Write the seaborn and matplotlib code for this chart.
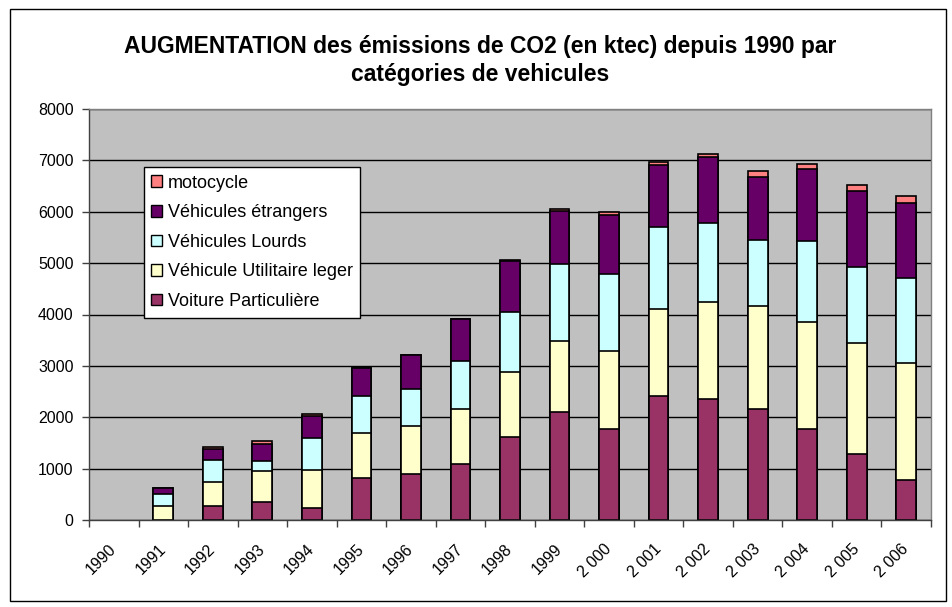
"""
Stacked bar chart: CO2 emission increase since 1990 by vehicle category.
"""

import matplotlib.pyplot as plt
import matplotlib.patches as mpatches
import matplotlib.transforms as mtransforms
import numpy as np
import pandas as pd
import seaborn as sns

years = ['1990', '1991', '1992', '1993', '1994', '1995', '1996', '1997', '1998',
         '1999', '2 000', '2 001', '2 002', '2 003', '2 004', '2 005', '2 006']

voiture_particuliere = [0, 0, 273, 357, 240, 825, 903, 1098, 1618, 2105, 1774,
                        2404, 2359, 2164, 1774, 1287, 786]
utilitaire_leger = [0, 273, 468, 598, 741, 871, 929, 1072, 1254, 1371, 1514,
                    1709, 1884, 2001, 2086, 2163, 2274]
vehicules_lourds = [0, 240, 429, 189, 611, 708, 709, 923, 1176, 1501, 1501,
                    1585, 1533, 1286, 1565, 1482, 1644]
vehicules_etrangers = [0, 117, 220, 344, 435, 559, 662, 825, 988, 1040, 1156,
                       1209, 1293, 1235, 1398, 1481, 1462]
motocycle = [0, 0, 30, 45, 30, 0, 0, 0, 30, 40, 52, 52, 52, 104, 110, 111, 137]

series = [
    ('Voiture Particulière', voiture_particuliere, '#993366'),
    ('Véhicule Utilitaire leger', utilitaire_leger, '#FFFFCC'),
    ('Véhicules Lourds', vehicules_lourds, '#CCFFFF'),
    ('Véhicules étrangers', vehicules_etrangers, '#660066'),
    ('motocycle', motocycle, '#FF8080'),
]

sns.set_style('white')
plt.rcParams['font.family'] = ['Liberation Sans', 'DejaVu Sans']
plt.rcParams['text.color'] = 'black'
plt.rcParams['xtick.color'] = 'black'
plt.rcParams['ytick.color'] = 'black'

fig = plt.figure(figsize=(9.52, 6.07), dpi=100)
ax = fig.add_axes([89 / 952, 1 - 520 / 607, 842 / 952, 411 / 607])
ax.set_facecolor('#C0C0C0')

# cumulative tops, drawn from the top layer downwards so each segment shows
cum = np.cumsum([s[1] for s in series], axis=0)
for i in range(len(series) - 1, -1, -1):
    df = pd.DataFrame({'year': years, 'value': cum[i]})
    sns.barplot(data=df, x='year', y='value', color=series[i][2], ax=ax,
                width=0.4, edgecolor='black', linewidth=1.2, saturation=1,
                errorbar=None)

# hide empty bars (1990)
for p in ax.patches:
    if p.get_height() == 0:
        p.set_visible(False)

ax.set_xlim(-0.5, len(years) - 0.5)
ax.set_ylim(0, 8000)
ax.set_yticks(range(0, 8001, 1000))
ax.yaxis.grid(True, color='black', linewidth=1)
ax.set_axisbelow(True)
ax.set_xlabel('')
ax.set_ylabel('')

ax.set_xticks(range(len(years)))
ax.set_xticklabels(years, rotation=45, ha='right', va='center',
                   rotation_mode='anchor', fontsize=11.5)
shift = mtransforms.ScaledTranslation(-8 / 100, 0, fig.dpi_scale_trans)
for lbl in ax.get_xticklabels():
    lbl.set_transform(lbl.get_transform() + shift)
ax.set_xticks(np.arange(-0.5, len(years)), minor=True)
ax.tick_params(axis='x', which='major', length=0, pad=19)
ax.tick_params(axis='x', which='minor', length=5, width=1, color='#404040',
               direction='out', bottom=True)
ax.tick_params(axis='y', length=5, width=1, color='#404040', direction='out',
               left=True, labelsize=11.5, pad=6)

for side in ['left', 'bottom']:
    ax.spines[side].set_color('#404040')
    ax.spines[side].set_linewidth(1)
for side in ['top', 'right']:
    ax.spines[side].set_color('#808080')
    ax.spines[side].set_linewidth(1)

handles = [mpatches.Patch(facecolor=c, edgecolor='black', linewidth=1, label=n)
           for n, _, c in reversed(series)]
leg = ax.legend(handles=handles, loc='upper left', bbox_to_anchor=(0.065, 0.859),
                borderaxespad=0, fontsize=13, handlelength=0.6,
                handleheight=0.6, handletextpad=0.3, labelspacing=0.70,
                borderpad=0.42, fancybox=False, framealpha=1, edgecolor='black')
leg.get_frame().set_linewidth(1)

fig.text(480 / 952, 1 - 47 / 607,
         'AUGMENTATION des émissions de CO2 (en ktec) depuis 1990 par',
         ha='center', va='center', fontsize=16.5, fontweight='bold')
fig.text(480 / 952, 1 - 75 / 607, 'catégories de vehicules',
         ha='center', va='center', fontsize=16.5, fontweight='bold')

fig.patches.append(mpatches.Rectangle((10 / 952, 6 / 607), 936 / 952, 592 / 607,
                                      transform=fig.transFigure, fill=False,
                                      edgecolor='black', linewidth=1))

plt.savefig('out.png', dpi=100)
plt.close(fig)
